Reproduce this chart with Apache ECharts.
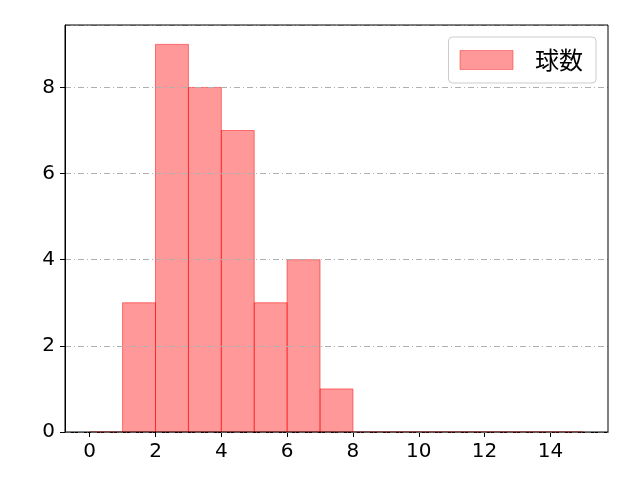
<!DOCTYPE html>
<html><head><meta charset="utf-8">
<script src="https://cdn.jsdelivr.net/npm/echarts@6/dist/echarts.min.js"></script>
<style>html,body{margin:0;padding:0;background:#fff}#c{width:640px;height:480px}</style>
</head><body><div id="c"></div>
<script>
const binStarts = [0,1,2,3,4,5,6,7,8,9,10,11,12,13,14];
const binWidth = 1;
const counts = [0,3,9,8,7,3,4,1,0,0,0,0,0,0,0];
const seriesName = '球数';
const xTicks = [0,2,4,6,8,10,12,14];
const yTicks = [0,2,4,6,8];

const data = binStarts.map((s,i)=>[s, s+binWidth, counts[i]]);
const font = '"Noto Sans CJK JP", "DejaVu Sans", sans-serif';
const numFont = '"DejaVu Sans", sans-serif';
const chart = echarts.init(document.getElementById('c'));
chart.setOption({
  animation:false,
  grid:{left:65,right:32,top:25,bottom:48,show:true,borderColor:'#000',borderWidth:1,backgroundColor:'transparent',z:5},
  legend:{show:true,right:44,top:37,orient:'vertical',itemWidth:53,itemHeight:19,itemGap:10,
    padding:[11,13,11,11],borderColor:'#cccccc',borderWidth:1,borderRadius:4,backgroundColor:'#fff',
    textStyle:{fontSize:24,color:'#000',fontFamily:font,padding:[0,0,0,17]},
    data:[{name:seriesName,icon:'rect',itemStyle:{color:'rgba(255,0,0,0.4)',borderColor:'rgba(255,0,0,0.4)',borderWidth:1}}]},
  xAxis:{type:'value',min:-0.75,max:15.75,splitLine:{show:false},
    axisLine:{onZero:false,lineStyle:{color:'#000'}},
    axisTick:{show:true,length:5,lineStyle:{color:'#000'},customValues:xTicks},
    axisLabel:{customValues:xTicks,fontSize:20,color:'#000',margin:10,fontFamily:numFont}},
  yAxis:{type:'value',min:0,max:9.45,interval:2,z:4,
    axisLine:{show:true,onZero:false,lineStyle:{color:'#000'}},
    axisTick:{show:true,length:5,lineStyle:{color:'#000'}},
    axisLabel:{fontSize:20,color:'#000',margin:10,fontFamily:numFont,showMaxLabel:false},
    splitLine:{show:true,lineStyle:{color:'#b0b0b0',width:1,type:[6,3,1,3]}}},
  series:[{type:'custom',name:seriesName,z:2,
    renderItem:function(params,api){
      const p0=api.coord([api.value(0),0]);
      const p1=api.coord([api.value(1),api.value(2)]);
      return {type:'rect',shape:{x:p0[0],y:p1[1],width:p1[0]-p0[0],height:p0[1]-p1[1]},
        style:{fill:'rgba(255,0,0,0.4)',stroke:'rgba(255,0,0,0.5)',lineWidth:1}};
    },
    encode:{x:[0,1],y:2},
    data:data}]
});
</script></body></html>
